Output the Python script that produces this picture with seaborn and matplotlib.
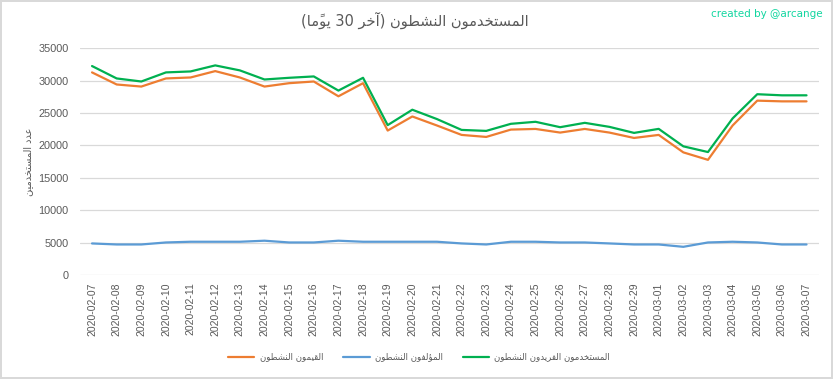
import re

import matplotlib
matplotlib.use("Agg")
import matplotlib.pyplot as plt
import pandas as pd
import seaborn as sns

# ---- data ----
dates = [
    "2020-02-07", "2020-02-08", "2020-02-09", "2020-02-10", "2020-02-11",
    "2020-02-12", "2020-02-13", "2020-02-14", "2020-02-15", "2020-02-16",
    "2020-02-17", "2020-02-18", "2020-02-19", "2020-02-20", "2020-02-21",
    "2020-02-22", "2020-02-23", "2020-02-24", "2020-02-25", "2020-02-26",
    "2020-02-27", "2020-02-28", "2020-02-29", "2020-03-01", "2020-03-02",
    "2020-03-03", "2020-03-04", "2020-03-05", "2020-03-06", "2020-03-07",
]
curators = [
    31260, 29400, 29080, 30330, 30480, 31460, 30480, 29080, 29600, 29860,
    27580, 29600, 22300, 24470, 23080, 21630, 21320, 22450, 22550, 21990,
    22550, 21990, 21160, 21630, 18940, 17790, 23080, 26910, 26800, 26800,
]
authors = [
    4910, 4750, 4750, 5060, 5170, 5170, 5170, 5330, 5060, 5060,
    5330, 5170, 5170, 5170, 5170, 4910, 4750, 5170, 5170, 5060,
    5060, 4910, 4750, 4750, 4390, 5060, 5170, 5060, 4750, 4750,
]
unique_users = [
    32240, 30330, 29860, 31260, 31410, 32340, 31570, 30170, 30430, 30640,
    28460, 30430, 23140, 25510, 24070, 22400, 22250, 23340, 23650, 22820,
    23490, 22870, 21940, 22560, 19870, 18990, 24170, 27900, 27730, 27730,
]
series_names = ["القيمون النشطون", "المؤلفون النشطون", "المستخدمون الفريدون النشطون"]
series_colors = ["#ED7D31", "#5B9BD5", "#00B050"]
title_text = "المستخدمون النشطون (آخر 30 يومًا)"
ylabel_text = "عدد المستخدمين"
y_ticks = [0, 5000, 10000, 15000, 20000, 25000, 30000, 35000]

# ---- tiny Arabic shaper (matplotlib has no complex text layout) ----
FORMS = {
    "ا": ("\uFE8D", "\uFE8E"),
    "آ": ("\uFE81", "\uFE82"),
    "ؤ": ("\uFE85", "\uFE86"),
    "د": ("\uFEA9", "\uFEAA"),
    "ر": ("\uFEAD", "\uFEAE"),
    "و": ("\uFEED", "\uFEEE"),
    "ت": ("\uFE95", "\uFE96", "\uFE97", "\uFE98"),
    "خ": ("\uFEA5", "\uFEA6", "\uFEA7", "\uFEA8"),
    "س": ("\uFEB1", "\uFEB2", "\uFEB3", "\uFEB4"),
    "ش": ("\uFEB5", "\uFEB6", "\uFEB7", "\uFEB8"),
    "ط": ("\uFEC1", "\uFEC2", "\uFEC3", "\uFEC4"),
    "ع": ("\uFEC9", "\uFECA", "\uFECB", "\uFECC"),
    "ف": ("\uFED1", "\uFED2", "\uFED3", "\uFED4"),
    "ق": ("\uFED5", "\uFED6", "\uFED7", "\uFED8"),
    "ل": ("\uFEDD", "\uFEDE", "\uFEDF", "\uFEE0"),
    "م": ("\uFEE1", "\uFEE2", "\uFEE3", "\uFEE4"),
    "ن": ("\uFEE5", "\uFEE6", "\uFEE7", "\uFEE8"),
    "ي": ("\uFEF1", "\uFEF2", "\uFEF3", "\uFEF4"),
}
MARKS = "\u064B"


def shape(text):
    chars = list(text)

    def neighbor(i, step):
        j = i + step
        while 0 <= j < len(chars) and chars[j] in MARKS:
            j += step
        return chars[j] if 0 <= j < len(chars) else None

    out = []
    for i, c in enumerate(chars):
        if c not in FORMS:
            out.append(c)
            continue
        f = FORMS[c]
        p, n = neighbor(i, -1), neighbor(i, 1)
        join_prev = p in FORMS and len(FORMS[p]) == 4
        join_next = n in FORMS and len(f) == 4
        if join_prev and join_next:
            out.append(f[3])
        elif join_prev:
            out.append(f[1])
        elif join_next:
            out.append(f[2])
        else:
            out.append(f[0])
    vis = "".join(out)[::-1]
    vis = re.sub(r"\d+", lambda m: m.group(0)[::-1], vis)
    vis = re.sub("([" + MARKS + "])(.)", r"\2\1", vis)
    return vis.translate(str.maketrans("()", ")("))


# ---- build long table ----
labels = [shape(s) for s in series_names]
df = pd.concat(
    [
        pd.DataFrame({"date": dates, "value": vals, "series": lab})
        for vals, lab in zip([curators, authors, unique_users], labels)
    ],
    ignore_index=True,
)

sns.set_style("white")
plt.rcParams["font.family"] = ["Liberation Sans", "DejaVu Sans"]

text_gray = "#595959"
grid_gray = "#D9D9D9"

fig = plt.figure(figsize=(8.33, 3.79), dpi=100)
fig.patch.set_edgecolor(grid_gray)
fig.patch.set_linewidth(1.5)
ax = fig.add_axes([0.0957, 0.2736, 0.8873, 0.5994])

sns.lineplot(
    data=df, x="date", y="value", hue="series", hue_order=labels,
    palette=series_colors, linewidth=1.6, ax=ax, sort=False,
)

ax.set_xlim(-0.5, len(dates) - 0.5)
ax.set_ylim(0, 35000)
ax.set_yticks(y_ticks)
ax.set_yticklabels([str(t) for t in y_ticks], fontsize=7.8, color=text_gray)
ax.set_xticks(range(len(dates)))
ax.set_xticklabels(dates, rotation=90, fontsize=7.5, color=text_gray)
ax.tick_params(axis="x", length=0, pad=5)
ax.tick_params(axis="y", length=0, pad=8)
ax.grid(axis="y", color=grid_gray, linewidth=0.9)
ax.set_axisbelow(True)
for s in ax.spines.values():
    s.set_visible(False)
ax.set_xlabel("")
ax.set_ylabel(shape(ylabel_text), fontsize=7, color=text_gray,
              family=["DejaVu Sans"], labelpad=4)

handles, _ = ax.get_legend_handles_labels()
ax.get_legend().remove()
fig.legend(
    handles, labels, loc="center", bbox_to_anchor=(0.503, 0.058), ncol=3,
    frameon=False, handlelength=3.1, handletextpad=0.6, columnspacing=2.3,
    labelcolor=text_gray, prop={"family": ["DejaVu Sans"], "size": 6.2},
)

fig.text(0.498, 0.945, shape(title_text), ha="center", va="center",
         fontsize=10.5, color=text_gray, family=["DejaVu Sans"])
fig.text(0.988, 0.963, "created by @arcange", ha="right", va="center",
         fontsize=7.5, color="#12D6A0", family=["DejaVu Sans"])

fig.savefig("out.png", dpi=100, edgecolor=fig.get_edgecolor())
